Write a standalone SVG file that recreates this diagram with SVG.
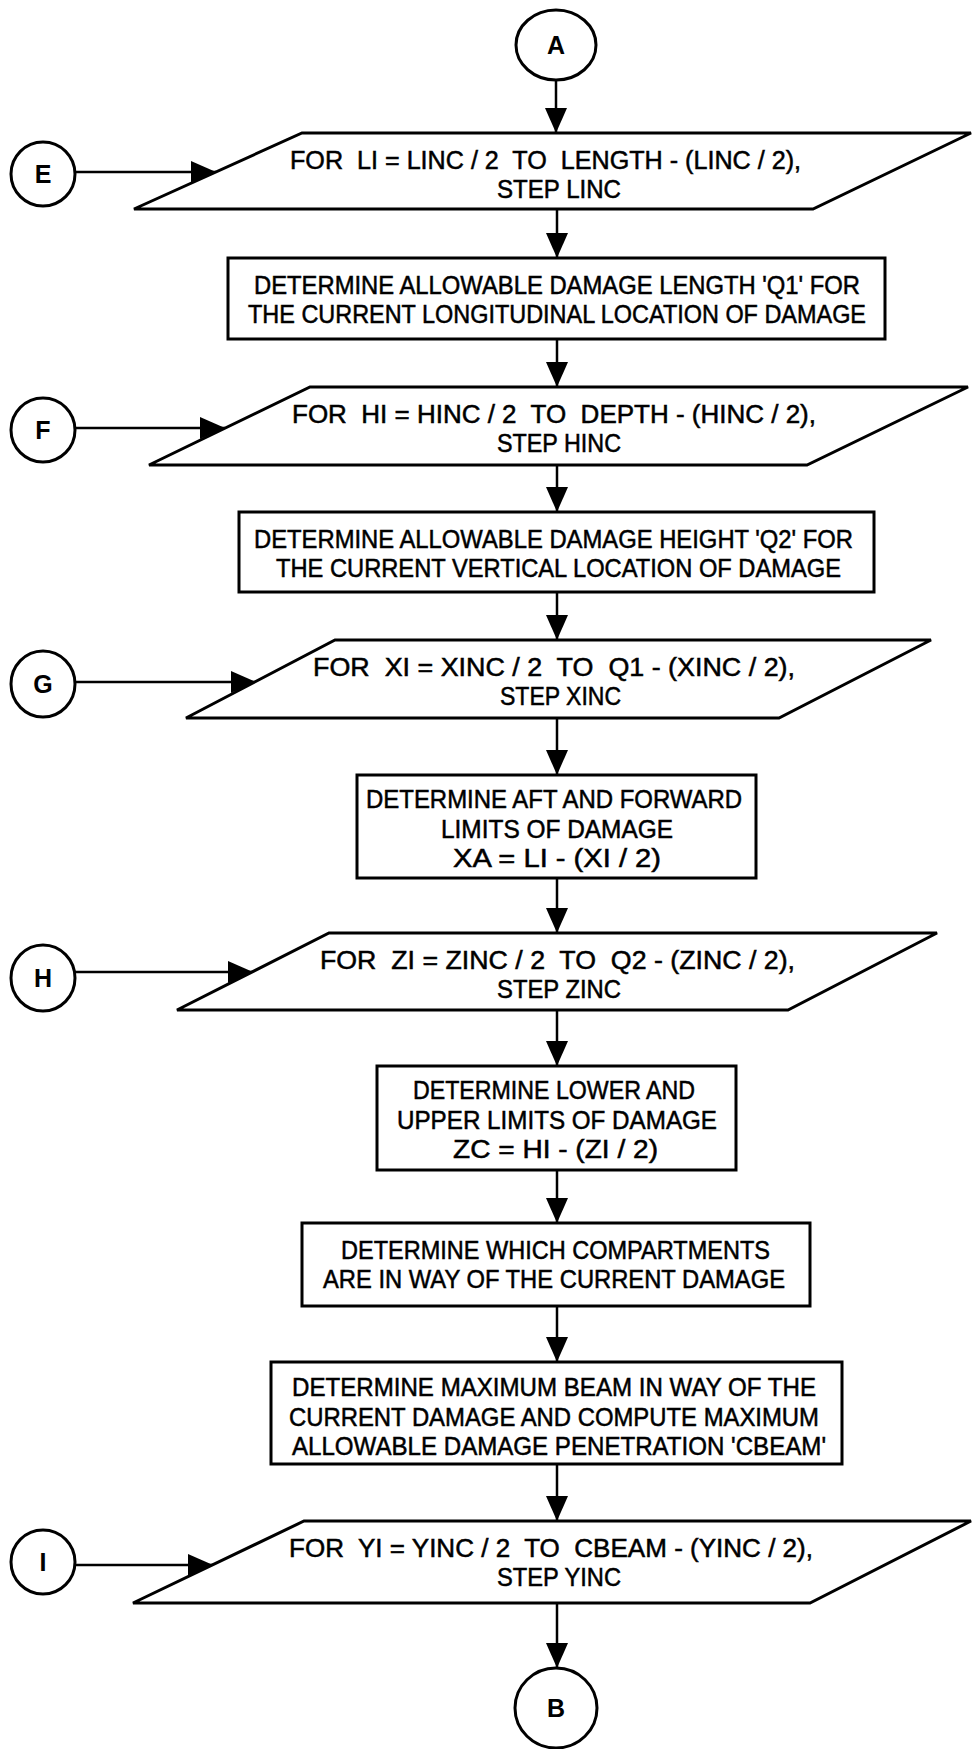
<svg xmlns="http://www.w3.org/2000/svg" width="973" height="1749" viewBox="0 0 973 1749">
<style>
.bg{fill:#fff}
.shape{fill:#fff;stroke:#000;stroke-width:3}
.conn{stroke:#000;stroke-width:2.5;fill:none}
.t{font-family:"Liberation Sans",Arial,sans-serif;font-size:25px;fill:#000;stroke:#000;stroke-width:0.5;white-space:pre}
.c{font-family:"Liberation Sans",Arial,sans-serif;font-size:25px;font-weight:bold;fill:#000;text-anchor:middle}
</style>
<defs>
<marker id="ah" markerUnits="userSpaceOnUse" markerWidth="25" markerHeight="22" refX="25" refY="11" orient="auto">
<path d="M0,0 L25,11 L0,22 Z" fill="#000"/>
</marker>
</defs>
<rect class="bg" x="0" y="0" width="973" height="1749"/>

<g id="connectors">
<line class="conn" x1="556" y1="80" x2="556" y2="133" marker-end="url(#ah)"/>
<line class="conn" x1="75" y1="172" x2="216" y2="172" marker-end="url(#ah)"/>
<line class="conn" x1="557" y1="209" x2="557" y2="258" marker-end="url(#ah)"/>
<line class="conn" x1="557" y1="339" x2="557" y2="387" marker-end="url(#ah)"/>
<line class="conn" x1="75" y1="428" x2="225" y2="428" marker-end="url(#ah)"/>
<line class="conn" x1="557" y1="465" x2="557" y2="512" marker-end="url(#ah)"/>
<line class="conn" x1="557" y1="592" x2="557" y2="640" marker-end="url(#ah)"/>
<line class="conn" x1="75" y1="682" x2="256" y2="682" marker-end="url(#ah)"/>
<line class="conn" x1="557" y1="718" x2="557" y2="775" marker-end="url(#ah)"/>
<line class="conn" x1="557" y1="878" x2="557" y2="933" marker-end="url(#ah)"/>
<line class="conn" x1="75" y1="972" x2="253" y2="972" marker-end="url(#ah)"/>
<line class="conn" x1="557" y1="1010" x2="557" y2="1066" marker-end="url(#ah)"/>
<line class="conn" x1="557" y1="1170" x2="557" y2="1223" marker-end="url(#ah)"/>
<line class="conn" x1="557" y1="1306" x2="557" y2="1362" marker-end="url(#ah)"/>
<line class="conn" x1="557" y1="1464" x2="557" y2="1521" marker-end="url(#ah)"/>
<line class="conn" x1="75" y1="1565" x2="213" y2="1565" marker-end="url(#ah)"/>
<line class="conn" x1="557" y1="1603" x2="557" y2="1668" marker-end="url(#ah)"/>
</g>

<g id="nodeA">
<ellipse class="shape" cx="556" cy="45" rx="40" ry="35"/>
<text class="c" x="556" y="54">A</text>
</g>

<g id="nodeE">
<ellipse class="shape" cx="43" cy="174" rx="32" ry="32"/>
<text class="c" x="43" y="183">E</text>
</g>

<g id="loopLI">
<polygon class="shape" points="302,133 971,133 813,209 134,209"/>
<text class="t" x="290" y="169" textLength="511" lengthAdjust="spacingAndGlyphs">FOR  LI = LINC / 2  TO  LENGTH - (LINC / 2),</text>
<text class="t" x="497" y="198" textLength="124" lengthAdjust="spacingAndGlyphs">STEP LINC</text>
</g>

<g id="boxQ1">
<rect class="shape" x="228" y="258" width="657" height="81"/>
<text class="t" x="254" y="294" textLength="606" lengthAdjust="spacingAndGlyphs">DETERMINE ALLOWABLE DAMAGE LENGTH 'Q1' FOR</text>
<text class="t" x="248" y="323" textLength="618" lengthAdjust="spacingAndGlyphs">THE CURRENT LONGITUDINAL LOCATION OF DAMAGE</text>
</g>

<g id="nodeF">
<ellipse class="shape" cx="43" cy="430" rx="32" ry="32"/>
<text class="c" x="43" y="439">F</text>
</g>

<g id="loopHI">
<polygon class="shape" points="310,387 968,387 807,465 149,465"/>
<text class="t" x="292" y="423" textLength="524" lengthAdjust="spacingAndGlyphs">FOR  HI = HINC / 2  TO  DEPTH - (HINC / 2),</text>
<text class="t" x="497" y="452" textLength="124" lengthAdjust="spacingAndGlyphs">STEP HINC</text>
</g>

<g id="boxQ2">
<rect class="shape" x="239" y="512" width="635" height="80"/>
<text class="t" x="254" y="548" textLength="599" lengthAdjust="spacingAndGlyphs">DETERMINE ALLOWABLE DAMAGE HEIGHT 'Q2' FOR</text>
<text class="t" x="276" y="577" textLength="565" lengthAdjust="spacingAndGlyphs">THE CURRENT VERTICAL LOCATION OF DAMAGE</text>
</g>

<g id="nodeG">
<ellipse class="shape" cx="43" cy="684" rx="32" ry="33"/>
<text class="c" x="43" y="693">G</text>
</g>

<g id="loopXI">
<polygon class="shape" points="335,640 931,640 779,718 186,718"/>
<text class="t" x="313" y="676" textLength="482" lengthAdjust="spacingAndGlyphs">FOR  XI = XINC / 2  TO  Q1 - (XINC / 2),</text>
<text class="t" x="500" y="705" textLength="121" lengthAdjust="spacingAndGlyphs">STEP XINC</text>
</g>

<g id="boxXA">
<rect class="shape" x="357" y="775" width="399" height="103"/>
<text class="t" x="366" y="808" textLength="376" lengthAdjust="spacingAndGlyphs">DETERMINE AFT AND FORWARD</text>
<text class="t" x="441" y="838" textLength="232" lengthAdjust="spacingAndGlyphs">LIMITS OF DAMAGE</text>
<text class="t" x="453" y="867" textLength="208" lengthAdjust="spacingAndGlyphs">XA = LI - (XI / 2)</text>
</g>

<g id="nodeH">
<ellipse class="shape" cx="43" cy="978" rx="32" ry="33"/>
<text class="c" x="43" y="987">H</text>
</g>

<g id="loopZI">
<polygon class="shape" points="329,933 937,933 788,1010 177,1010"/>
<text class="t" x="320" y="969" textLength="475" lengthAdjust="spacingAndGlyphs">FOR  ZI = ZINC / 2  TO  Q2 - (ZINC / 2),</text>
<text class="t" x="497" y="998" textLength="124" lengthAdjust="spacingAndGlyphs">STEP ZINC</text>
</g>

<g id="boxZC">
<rect class="shape" x="377" y="1066" width="359" height="104"/>
<text class="t" x="413" y="1099" textLength="282" lengthAdjust="spacingAndGlyphs">DETERMINE LOWER AND</text>
<text class="t" x="397" y="1129" textLength="320" lengthAdjust="spacingAndGlyphs">UPPER LIMITS OF DAMAGE</text>
<text class="t" x="453" y="1158" textLength="205" lengthAdjust="spacingAndGlyphs">ZC = HI - (ZI / 2)</text>
</g>

<g id="boxComp">
<rect class="shape" x="302" y="1223" width="508" height="83"/>
<text class="t" x="341" y="1259" textLength="429" lengthAdjust="spacingAndGlyphs">DETERMINE WHICH COMPARTMENTS</text>
<text class="t" x="323" y="1288" textLength="462" lengthAdjust="spacingAndGlyphs">ARE IN WAY OF THE CURRENT DAMAGE</text>
</g>

<g id="boxBeam">
<rect class="shape" x="271" y="1362" width="571" height="102"/>
<text class="t" x="292" y="1396" textLength="524" lengthAdjust="spacingAndGlyphs">DETERMINE MAXIMUM BEAM IN WAY OF THE</text>
<text class="t" x="289" y="1426" textLength="530" lengthAdjust="spacingAndGlyphs">CURRENT DAMAGE AND COMPUTE MAXIMUM</text>
<text class="t" x="292" y="1455" textLength="534" lengthAdjust="spacingAndGlyphs">ALLOWABLE DAMAGE PENETRATION 'CBEAM'</text>
</g>

<g id="nodeI">
<ellipse class="shape" cx="43" cy="1562" rx="32" ry="32"/>
<text class="c" x="43" y="1571">I</text>
</g>

<g id="loopYI">
<polygon class="shape" points="304,1521 971,1521 810,1603 133,1603"/>
<text class="t" x="289" y="1557" textLength="524" lengthAdjust="spacingAndGlyphs">FOR  YI = YINC / 2  TO  CBEAM - (YINC / 2),</text>
<text class="t" x="497" y="1586" textLength="124" lengthAdjust="spacingAndGlyphs">STEP YINC</text>
</g>

<g id="nodeB">
<ellipse class="shape" cx="556" cy="1708" rx="41" ry="40"/>
<text class="c" x="556" y="1717">B</text>
</g>
</svg>
